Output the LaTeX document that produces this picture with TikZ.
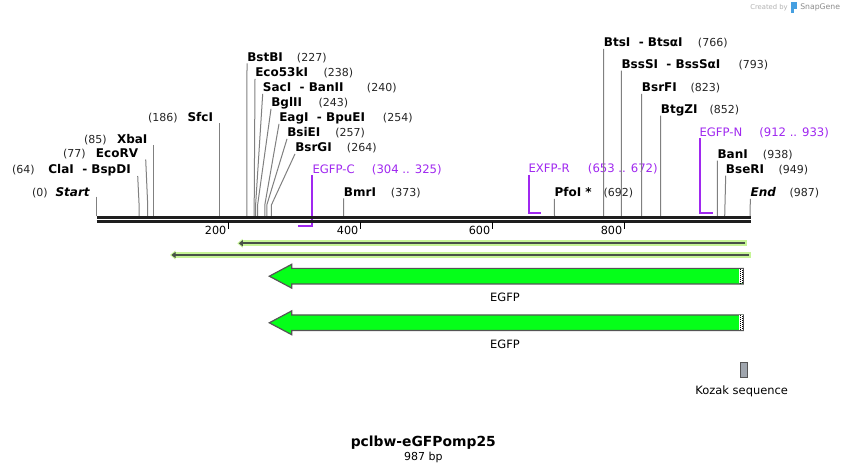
\documentclass[tikz,border=0pt]{standalone}
\usepackage{fontspec}
\setmainfont{DejaVu Sans}
\usetikzlibrary{arrows.meta}
\definecolor{sitegray}{RGB}{128,128,128}
\definecolor{primer}{RGB}{160,40,240}
\definecolor{egfp}{RGB}{5,255,25}
\definecolor{halo}{RGB}{198,245,150}
\definecolor{featdark}{RGB}{72,82,72}
\definecolor{kozak}{RGB}{160,166,174}
\definecolor{edge}{RGB}{85,85,85}
\definecolor{bb}{RGB}{30,30,30}
\definecolor{sglogo}{RGB}{70,160,225}
\begin{document}
\begin{tikzpicture}[x=0.75pt,y=-0.75pt,
  enz/.style={font=\fontsize{9}{10}\selectfont\bfseries, inner sep=0pt, text height=6.5pt, text depth=0pt},
  enzit/.style={font=\fontsize{9}{10}\selectfont\bfseries\itshape, inner sep=0pt, text height=6.5pt, text depth=0pt},
  num/.style={font=\fontsize{8.25}{10}\selectfont, text=black!85, inner sep=0pt, text height=6.5pt, text depth=0pt},
  plab/.style={font=\fontsize{8.75}{10}\selectfont, text=primer, inner sep=0pt, text height=6.5pt, text depth=0pt},
  ticklab/.style={font=\fontsize{8.4}{10}\selectfont, inner sep=0pt, text height=6.5pt, text depth=0pt},
  flab/.style={font=\fontsize{8.6}{10}\selectfont, inner sep=0pt},
  site/.style={draw=sitegray, line width=0.75pt},
  pline/.style={draw=primer, line width=1.5pt},
  bbline/.style={draw=bb, line width=2pt},
  tickmark/.style={draw=black, line width=1.1pt},
  halofeat/.style={draw=halo, line width=4.5pt, -{Triangle[length=4pt,width=6.5pt]}},
  darkfeat/.style={draw=featdark, line width=1.6pt, -{Triangle[length=3pt,width=4.5pt]}},
  cds/.style={fill=egfp, draw=edge, line width=0.9pt, line join=miter},
]
\useasboundingbox (0,0) rectangle (848,473);
\fill[white] (0,0) rectangle (848,473);

% ---- site coordinates on the backbone (s) and bend points (b)
\foreach \n/\x in {0/96.7,64/139.1,77/147.7,85/153.0,186/219.8,227/246.9,238/254.2,240/255.6,243/257.6,254/264.8,257/266.8,264/271.4,373/343.6,692/554.5,766/603.6,793/621.4,823/641.5,852/660.6,938/717.4,949/724.7,987/750.1}{
  \coordinate (s\n) at (\x,216);
  \coordinate (b\n) at (\x,205);
}

% ---- primers (drawn before the backbone)
\coordinate (pc1) at (312.3,175); \coordinate (pc2) at (312.3,226); \coordinate (pc3) at (298,226);
\draw[pline] (pc1) -- (pc2) -- (pc3);
\coordinate (pr1) at (528.5,175); \coordinate (pr2) at (528.5,212.7); \coordinate (pr3) at (540.5,212.7);
\draw[pline] (pr1) -- (pr2) -- (pr3);
\coordinate (pn1) at (699.5,138.5); \coordinate (pn2) at (699.5,212.7); \coordinate (pn3) at (713,212.7);
\draw[pline] (pn1) -- (pn2) -- (pn3);
\node[plab,anchor=west] (pcl) at (312.3,168.7) {EGFP-C};
\node[plab,anchor=west] (pcn) at (371.7,168.7) {(304 .. 325)};
\node[plab,anchor=west] (prl) at (528.3,168.3) {EXFP-R};
\node[plab,anchor=west] (prn) at (587.7,168.3) {(653 .. 672)};
\node[plab,anchor=west] (pnl) at (699.3,131.7) {EGFP-N};
\node[plab,anchor=west] (pnn) at (759,131.7) {(912 .. 933)};

% ---- backbone
\coordinate (bbL1) at (96.7,217.2); \coordinate (bbR1) at (750.7,217.2);
\coordinate (bbL2) at (96.7,221.3); \coordinate (bbR2) at (750.7,221.3);
\draw[bbline] (bbL1) -- (bbR1);
\draw[bbline] (bbL2) -- (bbR2);

% ---- ticks
\foreach \t/\x in {200/228.6,400/360.6,600/492.5,800/624.4}{
  \coordinate (tk\t a) at (\x,222.4);
  \coordinate (tk\t b) at (\x,229.5);
  \draw[tickmark] (tk\t a) -- (tk\t b);
  \node[ticklab,anchor=east] (tl\t) at (\x-2,229.8) {\t};
}

% ---- left-side labels
\node[enzit,anchor=east] (eStart) at (90,191.7) {Start};
\node[num,anchor=east] (nStart) at (48,191.7) {(0)};
\coordinate (t0) at (96.7,196.7);
\draw[site] (t0) -- (s0);

\node[enz,anchor=east] (eCla) at (131,169.3) {ClaI\ \ - BspDI};
\node[num,anchor=east] (nCla) at (35,169.3) {(64)};
\coordinate (t64) at (137.7,176);
\draw[site] (t64) -- (b64) -- (s64);

\node[enz,anchor=east] (eEco) at (138.3,153.3) {EcoRV};
\node[num,anchor=east] (nEco) at (86,153.3) {(77)};
\coordinate (t77) at (145.7,159.5);
\draw[site] (t77) -- (b77) -- (s77);

\node[enz,anchor=east] (eXba) at (147.7,139.3) {XbaI};
\node[num,anchor=east] (nXba) at (107,139.3) {(85)};
\coordinate (t85) at (153,145);
\draw[site] (t85) -- (s85);

\node[enz,anchor=east] (eSfc) at (213.3,117.3) {SfcI};
\node[num,anchor=east] (nSfc) at (178,117.3) {(186)};
\coordinate (t186) at (219.8,123.3);
\draw[site] (t186) -- (s186);

% ---- right-side labels, cluster
\node[enz,anchor=west] (eBstBI) at (247,56.7) {BstBI};
\node[num,anchor=west] (nBstBI) at (296.7,56.7) {(227)};
\draw[site] ([yshift=-1.5pt]eBstBI.south west) -- (s227);

\node[enz,anchor=west] (eEco53) at (255,72.3) {Eco53kI};
\node[num,anchor=west] (nEco53) at (323.3,72.3) {(238)};
\draw[site] ([yshift=-1.5pt]eEco53.south west) -- (b238) -- (s238);

\node[enz,anchor=west] (eSac) at (262.7,87.3) {SacI\ \ - BanII};
\node[num,anchor=west] (nSac) at (366.7,87.3) {(240)};
\draw[site] ([yshift=-1.5pt]eSac.south west) -- (b240) -- (s240);

\node[enz,anchor=west] (eBgl) at (271,102.3) {BglII};
\node[num,anchor=west] (nBgl) at (318.3,102.3) {(243)};
\draw[site] ([yshift=-1.5pt]eBgl.south west) -- (b243) -- (s243);

\node[enz,anchor=west] (eEag) at (279,117.3) {EagI\ \ - BpuEI};
\node[num,anchor=west] (nEag) at (382.7,117.3) {(254)};
\draw[site] ([yshift=-1.5pt]eEag.south west) -- (b254) -- (s254);

\node[enz,anchor=west] (eBsiE) at (287,132.3) {BsiEI};
\node[num,anchor=west] (nBsiE) at (335,132.3) {(257)};
\draw[site] ([yshift=-1.5pt]eBsiE.south west) -- (b257) -- (s257);

\node[enz,anchor=west] (eBsrG) at (295,147.3) {BsrGI};
\node[num,anchor=west] (nBsrG) at (346.7,147.3) {(264)};
\draw[site] ([yshift=-1.5pt]eBsrG.south west) -- (b264) -- (s264);

\node[enz,anchor=west] (eBmr) at (343.7,191.7) {BmrI};
\node[num,anchor=west] (nBmr) at (390.7,191.7) {(373)};
\draw[site] ([yshift=-1.5pt]eBmr.south west) -- (s373);

\node[enz,anchor=west] (ePfo) at (554.3,192.3) {PfoI *};
\node[num,anchor=west] (nPfo) at (603.3,192.3) {(692)};
\draw[site] ([yshift=-1.5pt]ePfo.south west) -- (s692);

\node[enz,anchor=west] (eBts) at (603.7,42.3) {BtsI\ \ - BtsαI};
\node[num,anchor=west] (nBts) at (697.7,42.3) {(766)};
\draw[site] ([yshift=-1.5pt]eBts.south west) -- (s766);

\node[enz,anchor=west] (eBssS) at (621.3,64) {BssSI\ \ - BssSαI};
\node[num,anchor=west] (nBssS) at (738.3,64) {(793)};
\draw[site] ([yshift=-1.5pt]eBssS.south west) -- (s793);

\node[enz,anchor=west] (eBsrF) at (641.7,87.3) {BsrFI};
\node[num,anchor=west] (nBsrF) at (690.3,87.3) {(823)};
\draw[site] ([yshift=-1.5pt]eBsrF.south west) -- (s823);

\node[enz,anchor=west] (eBtgZ) at (660.7,109) {BtgZI};
\node[num,anchor=west] (nBtgZ) at (709.3,109) {(852)};
\draw[site] ([yshift=-1.5pt]eBtgZ.south west) -- (s852);

\node[enz,anchor=west] (eBan) at (717.3,154) {BanI};
\node[num,anchor=west] (nBan) at (762.7,154) {(938)};
\draw[site] ([yshift=-1.5pt]eBan.south west) -- (s938);

\node[enz,anchor=west] (eBseR) at (725.7,169) {BseRI};
\node[num,anchor=west] (nBseR) at (778.3,169) {(949)};
\draw[site] ([yshift=-1.5pt]eBseR.south west) -- (s949);

\node[enzit,anchor=west] (eEnd) at (750.3,192.3) {End};
\node[num,anchor=west] (nEnd) at (789.3,192.3) {(987)};
\draw[site] ([yshift=-1.5pt]eEnd.south west) -- (s987);

% ---- thin features
\coordinate (f1r) at (746.5,243.3); \coordinate (f1l) at (237.3,243.3);
\coordinate (f1rd) at (745,243.3); \coordinate (f1ld) at (238.8,243.3);
\draw[halofeat] (f1r) -- (f1l);
\draw[darkfeat] (f1rd) -- (f1ld);
\coordinate (f2r) at (750.7,255); \coordinate (f2l) at (170,255);
\coordinate (f2rd) at (749.2,255); \coordinate (f2ld) at (171.5,255);
\draw[halofeat] (f2r) -- (f2l);
\draw[darkfeat] (f2rd) -- (f2ld);

% ---- EGFP arrows
\foreach \c/\k in {276.2/1,322.8/2}{
  \draw[cds] (743.3,\c-7.8) -- (291.7,\c-7.8) -- (291.7,\c-11.9) -- (269.3,\c)
     -- (291.7,\c+11.9) -- (291.7,\c+7.8) -- (743.3,\c+7.8) -- cycle;
  \fill[white] (739.3,\c-7.3) rectangle (742.8,\c+7.3);
  \draw[black, line width=0.75pt, dash pattern=on 0.75pt off 0.75pt] (740,\c-7.3) -- (740,\c+7.3);
  \draw[black, line width=0.75pt, dash pattern=on 0.75pt off 0.75pt, dash phase=0.75pt] (742.1,\c-7.3) -- (742.1,\c+7.3);
}
\node[flab] (egfp1) at (505,297.5) {EGFP};
\node[flab] (egfp2) at (505,344) {EGFP};

% ---- Kozak
\draw[fill=kozak, draw=edge, line width=0.75pt] (740,362.3) rectangle (747.7,377.7);
\node[flab] (kozl) at (741.7,391.7) {Kozak sequence};

% ---- title
\node[font=\fontsize{10.4}{12}\selectfont\bfseries] (title) at (423.3,442.7) {pclbw-eGFPomp25};
\node[font=\fontsize{8.25}{10}\selectfont] (len) at (423.3,457) {987 bp};

% ---- credit
\node[font=\fontsize{5.1}{6}\selectfont, text=black!30, anchor=west, inner sep=0pt] (cby) at (750,7.5) {Created by};
\fill[sglogo] (791,2.5) rectangle (797,9) ;
\fill[sglogo] (791,9) rectangle (793.5,13.5);
\node[font=\fontsize{5.8}{7}\selectfont, text=black!45, anchor=west, inner sep=0pt] (sg) at (800,7.5) {SnapGene};
\end{tikzpicture}
\end{document}
